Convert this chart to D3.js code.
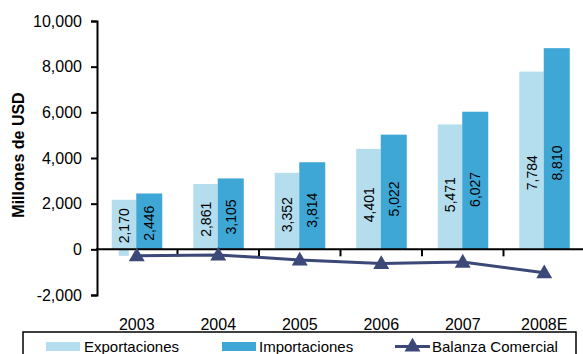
<!DOCTYPE html>
<meta charset="utf-8">
<style>
  body { margin: 0; background: #fff; }
  text { font-family: "Liberation Sans", Arial, sans-serif; fill: #000; }
</style>
<body>
<svg width="583" height="354"></svg>
</body>
<script src="https://cdn.jsdelivr.net/npm/d3@7/dist/d3.min.js"></script>
<script>
  // data
  var years = ["2003", "2004", "2005", "2006", "2007", "2008E"];
  var exportaciones = [2170, 2861, 3352, 4401, 5471, 7784];
  var importaciones = [2446, 3105, 3814, 5022, 6027, 8810];
  var balanza = [-276, -244, -462, -621, -556, -1026];
  var yTicks = [-2000, 0, 2000, 4000, 6000, 8000, 10000];

  var LIGHT = "#b4ddee";
  var DARK = "#3ea7d6";
  var NAVY = "#3b4878";

  var svg = d3.select("svg");
  var locale = d3.formatLocale({ decimal: ".", thousands: ",", grouping: [3], currency: ["$", ""], minus: "-" });
  var fmt = locale.format(",");

  var x = d3.scaleBand().domain(years).range([96, 585]);
  var y = d3.scaleLinear().domain([-2000, 10000]).range([295, 21]);
  var barW = 24.5;

  var g = svg.append("g");

  var rows = years.map(function(yr, i) {
    return { year: yr, exp: exportaciones[i], imp: importaciones[i], bal: balanza[i] };
  });

  function cx(d) { return x(d.year) + x.bandwidth() / 2; }

  // bars
  g.selectAll("rect.exp").data(rows).enter().append("rect")
    .attr("class", "exp")
    .attr("x", function(d) { return cx(d) - barW - 0.5; })
    .attr("width", barW)
    .attr("y", function(d) { return y(d.exp); })
    .attr("height", function(d) { return y(0) - y(d.exp); })
    .attr("fill", LIGHT);

  g.selectAll("rect.imp").data(rows).enter().append("rect")
    .attr("class", "imp")
    .attr("x", function(d) { return cx(d) - 0.5; })
    .attr("width", barW + 1.5)
    .attr("y", function(d) { return y(d.imp); })
    .attr("height", function(d) { return y(0) - y(d.imp); })
    .attr("fill", DARK);

  // value labels (rotated), centre at ~41% of bar height
  function labelY(v) { return y(v * 0.414) - 3; }

  // background box behind export labels (spills below zero on short bars)
  g.selectAll("rect.expbg").data(rows).enter().append("rect")
    .attr("x", function(d) { return cx(d) - 13 - 5; })
    .attr("width", 10)
    .attr("y", function(d) { return labelY(d.exp) - 17; })
    .attr("height", 47)
    .attr("fill", LIGHT);

  g.selectAll("text.expl").data(rows).enter().append("text")
    .attr("transform", function(d) {
      return "translate(" + (cx(d) - 12.5) + "," + labelY(d.exp) + ") rotate(-90)";
    })
    .attr("text-anchor", "middle")
    .attr("dy", "0.36em")
    .style("font-size", "14px")
    .text(function(d) { return fmt(d.exp); });

  g.selectAll("text.impl").data(rows).enter().append("text")
    .attr("transform", function(d) {
      return "translate(" + (cx(d) + 12.5) + "," + labelY(d.imp) + ") rotate(-90)";
    })
    .attr("text-anchor", "middle")
    .attr("dy", "0.36em")
    .style("font-size", "14px")
    .text(function(d) { return fmt(d.imp); });

  // y axis
  var yAxis = svg.append("g")
    .attr("transform", "translate(97,0)")
    .call(d3.axisLeft(y).tickValues(yTicks).tickFormat(fmt).tickSize(6).tickPadding(9));
  yAxis.select(".domain").attr("stroke", "#000").attr("stroke-width", 2);
  yAxis.selectAll(".tick line").attr("stroke", "#000").attr("stroke-width", 2);
  yAxis.selectAll(".tick text").style("font-size", "16px")
    .style("font-family", "'Liberation Sans', Arial, sans-serif").attr("fill", "#000");

  // zero line with category ticks
  svg.append("line")
    .attr("x1", 96).attr("x2", 585)
    .attr("y1", y(0)).attr("y2", y(0))
    .attr("stroke", "#000").attr("stroke-width", 2);
  svg.selectAll("line.xt").data(years.slice(1)).enter().append("line")
    .attr("x1", function(d) { return x(d); }).attr("x2", function(d) { return x(d); })
    .attr("y1", y(0)).attr("y2", y(0) + 7)
    .attr("stroke", "#000").attr("stroke-width", 2);

  // x labels
  svg.selectAll("text.xl").data(years).enter().append("text")
    .attr("x", function(d) { return x(d) + x.bandwidth() / 2; })
    .attr("y", 330)
    .attr("text-anchor", "middle")
    .style("font-size", "16px")
    .text(function(d) { return d; });

  // balance line
  var line = d3.line()
    .x(function(d) { return cx(d); })
    .y(function(d) { return y(d.bal); });
  svg.append("path").datum(rows)
    .attr("d", line)
    .attr("fill", "none")
    .attr("stroke", NAVY)
    .attr("stroke-width", 3);

  var tri = d3.symbol().type(d3.symbolTriangle).size(110);
  svg.selectAll("path.mk").data(rows).enter().append("path")
    .attr("d", tri)
    .attr("transform", function(d) { return "translate(" + cx(d) + "," + (y(d.bal) + 1) + ")"; })
    .attr("fill", NAVY);

  // y title
  svg.append("text")
    .attr("transform", "translate(24,155) rotate(-90)")
    .attr("text-anchor", "middle")
    .style("font-size", "16px")
    .style("font-weight", "bold")
    .text("Millones de USD");

  // legend
  var lg = svg.append("g");
  lg.append("rect")
    .attr("x", 23).attr("y", 332).attr("width", 553).attr("height", 30)
    .attr("fill", "#fff").attr("stroke", "#000").attr("stroke-width", 1.5);
  lg.append("rect").attr("x", 46).attr("y", 342).attr("width", 34).attr("height", 9).attr("fill", LIGHT);
  lg.append("text").attr("x", 84).attr("y", 352).style("font-size", "15px").text("Exportaciones");
  lg.append("rect").attr("x", 222).attr("y", 342).attr("width", 34).attr("height", 9).attr("fill", DARK);
  lg.append("text").attr("x", 259).attr("y", 352).style("font-size", "15px").text("Importaciones");
  lg.append("line").attr("x1", 395).attr("x2", 430).attr("y1", 346.5).attr("y2", 346.5)
    .attr("stroke", NAVY).attr("stroke-width", 3);
  lg.append("path").attr("d", tri).attr("transform", "translate(412.5,347)").attr("fill", NAVY);
  lg.append("text").attr("x", 432).attr("y", 352).style("font-size", "15px").text("Balanza Comercial");
</script>
